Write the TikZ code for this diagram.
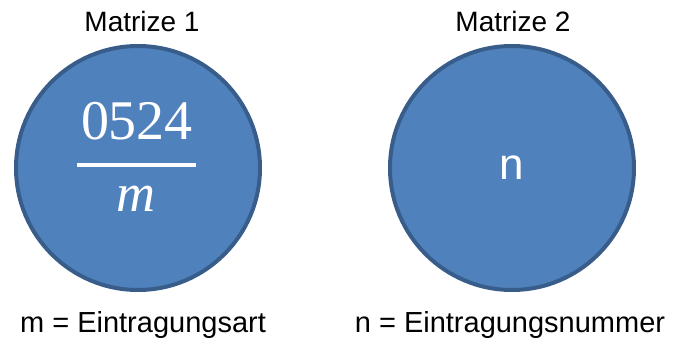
\documentclass[tikz,border=0pt]{standalone}
\usepackage{fontspec}
\setmainfont{Liberation Sans}
\newfontfamily\fracfont{Liberation Serif}
\definecolor{circfill}{HTML}{4F81BD}
\definecolor{circline}{HTML}{385D8A}
\begin{document}
\begin{tikzpicture}[x=1pt,y=-1pt,
  disc/.style={circle,fill=circfill,draw=circline,line width=4pt,minimum size=244pt,inner sep=0pt},
  lab/.style={font=\fontsize{28}{30}\selectfont,inner sep=0pt,anchor=center},
  intext/.style={text=white,inner sep=0pt}]
\useasboundingbox (0,0) rectangle (673,340);
\node[disc] (c1) at (138,168) {};
\node[disc] (c2) at (512,168) {};
\node[lab] (t1) at (142,21) {Matrize 1};
\node[lab] (t2) at (513,21) {Matrize 2};
\node[lab,font=\fontsize{29}{31}\selectfont] (b1) at (143,325) {m = Eintragungsart};
\node[lab,font=\fontsize{29}{31}\selectfont] (b2) at (510,325) {n = Eintragungsnummer};
\node[intext,font=\fracfont\fontsize{56}{58}\selectfont] (num) at (137,121) {0524};
\node[intext,font=\fracfont\itshape\fontsize{54}{56}\selectfont] (den) at (136,199) {m};
\draw[draw=white,line width=4pt] (77,165) -- (196,165);
\node[intext,font=\fontsize{44}{46}\selectfont] (n) at (512,168) {n};
\end{tikzpicture}
\end{document}
